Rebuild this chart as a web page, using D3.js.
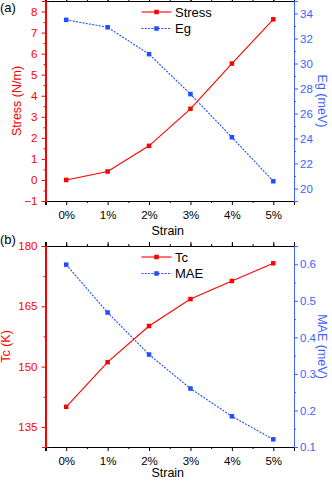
<!DOCTYPE html>
<html>
<head>
<meta charset="utf-8">
<script src="https://cdn.jsdelivr.net/npm/d3@7"></script>
<style>
  body { margin: 0; background: #fff; }
  svg { display: block; font-family: "Liberation Sans", Arial, sans-serif; }
  .domain { shape-rendering: crispEdges; }
</style>
</head>
<body>
<div id="graph"></div>
<script>
var strain = [0, 1, 2, 3, 4, 5]
var strainLabels = ['0%', '1%', '2%', '3%', '4%', '5%']

var stress = [0, 0.4, 1.62, 3.38, 5.53, 7.63]
var eg = [33.49, 32.9, 30.75, 27.55, 24.1, 20.58]
var tc = [140, 151.1, 160.1, 166.8, 171.3, 175.7]
var mae = [0.599, 0.468, 0.353, 0.26, 0.184, 0.121]

var stressTicks = [-1, 0, 1, 2, 3, 4, 5, 6, 7, 8]
var egTicks = [20, 22, 24, 26, 28, 30, 32, 34]
var tcTicks = [135, 150, 165, 180]
var maeTicks = [0.1, 0.2, 0.3, 0.4, 0.5, 0.6]

var red = '#ff0000', blue = '#1f4dff', blueAxis = '#3f5fff'

var W = 332, H = 481
var left = 45.5, right = 294

var svg = d3.select('#graph').append('svg').attr('width', W).attr('height', H)

var x = d3.scaleLinear().domain([-0.5, 5.5]).range([left, right])

function range(a, b, s) {
  var out = []
  for (var v = a; v <= b + 1e-9; v += s) out.push(+v.toFixed(4))
  return out
}

function panel(o) {
  var g = svg.append('g')
  var yl = d3.scaleLinear().domain(o.ldom).range([o.bottom, o.top])
  var yr = d3.scaleLinear().domain(o.rdom).range([o.bottom, o.top])

  // minor ticks first
  g.append('g').attr('transform', 'translate(0,' + o.bottom + ')')
    .call(d3.axisBottom(x).tickValues(range(0.5, 4.5, 1)).tickSize(2).tickFormat(''))
  g.append('g').attr('transform', 'translate(0,' + o.top + ')')
    .call(d3.axisTop(x).tickValues(range(-0.5, 5.5, 0.5)).tickSize(2).tickFormat(''))
  g.append('g').attr('transform', 'translate(' + left + ',0)').attr('class', 'la')
    .call(d3.axisLeft(yl).tickValues(o.lminor).tickSize(2).tickFormat(''))
  g.append('g').attr('transform', 'translate(' + right + ',0)').attr('class', 'ra')
    .call(d3.axisRight(yr).tickValues(o.rminor).tickSize(2).tickFormat(''))

  // major
  g.append('g').attr('transform', 'translate(0,' + o.bottom + ')')
    .call(d3.axisBottom(x).tickValues(strain).tickSize(4).tickPadding(6)
      .tickFormat(function(d, i){ return strainLabels[i] }))
  g.append('g').attr('transform', 'translate(0,' + o.top + ')')
    .call(d3.axisTop(x).tickValues(strain).tickSize(4).tickFormat(''))
  g.append('g').attr('transform', 'translate(' + left + ',0)').attr('class', 'la')
    .call(d3.axisLeft(yl).tickValues(o.lticks).tickSize(4).tickPadding(4).tickFormat(o.lfmt))
  g.append('g').attr('transform', 'translate(' + right + ',0)').attr('class', 'ra')
    .call(d3.axisRight(yr).tickValues(o.rticks).tickSize(4).tickPadding(2).tickFormat(o.rfmt))

  g.selectAll('.tick text').attr('font-size', 11.5).attr('font-family', null)
  g.selectAll('.domain').attr('stroke-width', 1.2)
  g.selectAll('.la path, .la line').attr('stroke', red)
  g.selectAll('.la text').attr('fill', red)
  g.selectAll('.ra path, .ra line').attr('stroke', blueAxis)
  g.selectAll('.ra text').attr('fill', blueAxis)

  // series
  var lineL = d3.line().x(function(d, i){ return x(strain[i]) }).y(function(d){ return yl(d) })
  var lineR = d3.line().x(function(d, i){ return x(strain[i]) }).y(function(d){ return yr(d) })

  g.append('path').attr('d', lineR(o.rdata)).attr('fill', 'none')
    .attr('stroke', blue).attr('stroke-width', 1.1).attr('stroke-dasharray', '2,1.3')
  g.append('path').attr('d', lineL(o.ldata)).attr('fill', 'none')
    .attr('stroke', red).attr('stroke-width', 1.1)

  var s = 4.5
  g.selectAll('rect.r').data(o.rdata).enter().append('rect')
    .attr('x', function(d, i){ return x(strain[i]) - s / 2 })
    .attr('y', function(d){ return yr(d) - s / 2 })
    .attr('width', s).attr('height', s).attr('fill', blue)
  g.selectAll('rect.l').data(o.ldata).enter().append('rect')
    .attr('x', function(d, i){ return x(strain[i]) - s / 2 })
    .attr('y', function(d){ return yl(d) - s / 2 })
    .attr('width', s).attr('height', s).attr('fill', red)

  // axis titles
  g.append('text').text('Strain').attr('x', (left + right) / 2 - 2).attr('y', o.bottom + o.sdy)
    .attr('text-anchor', 'middle').attr('font-size', 12.5)
  g.append('text').text(o.ltitle)
    .attr('transform', 'translate(' + o.ltx + ',' + ((o.top + o.bottom) / 2) + ') rotate(-90)')
    .attr('dy', '0.35em').attr('text-anchor', 'middle').attr('font-size', 12.5).attr('fill', red)
  g.append('text').text(o.rtitle)
    .attr('transform', 'translate(322,' + ((o.top + o.bottom) / 2) + ') rotate(90)')
    .attr('dy', '0.35em').attr('text-anchor', 'middle').attr('font-size', 12.5).attr('fill', blueAxis)

  g.append('text').text(o.tag).attr('x', 0).attr('y', o.top + o.tagdy).attr('font-size', 13)

  // legend
  var lx0 = 141.5, lx1 = 171.5
  var ly = [o.top + 11, o.top + 27.5]
  g.append('line').attr('x1', lx0).attr('x2', lx1).attr('y1', ly[0]).attr('y2', ly[0])
    .attr('stroke', red).attr('stroke-width', 1.1)
  g.append('rect').attr('x', (lx0 + lx1) / 2 - s / 2).attr('y', ly[0] - s / 2)
    .attr('width', s).attr('height', s).attr('fill', red)
  g.append('line').attr('x1', lx0).attr('x2', lx1).attr('y1', ly[1]).attr('y2', ly[1])
    .attr('stroke', blue).attr('stroke-width', 1.1).attr('stroke-dasharray', '2,1.3')
  g.append('rect').attr('x', (lx0 + lx1) / 2 - s / 2).attr('y', ly[1] - s / 2)
    .attr('width', s).attr('height', s).attr('fill', blue)
  g.append('text').text(o.lname).attr('x', 175).attr('y', ly[0]).attr('dy', '0.35em').attr('font-size', 13)
  g.append('text').text(o.rname).attr('x', 175).attr('y', ly[1]).attr('dy', '0.35em').attr('font-size', 13)
}

panel({
  top: 1, bottom: 201, tag: '(a)', tagdy: 11, sdy: 34,
  ldom: [-1, 8.5], rdom: [19, 35],
  lticks: stressTicks, rticks: egTicks,
  lminor: range(-0.5, 8.5, 1), rminor: range(19, 35, 2),
  lfmt: d3.format('d'), rfmt: d3.format('d'),
  ldata: stress, rdata: eg,
  ltitle: 'Stress (N/m)', rtitle: 'Eg (meV)', ltx: 17,
  lname: 'Stress', rname: 'Eg'
})

panel({
  top: 246, bottom: 447, tag: '(b)', tagdy: -2, sdy: 30,
  ldom: [130, 180], rdom: [0.1, 0.65],
  lticks: tcTicks, rticks: maeTicks,
  lminor: range(142.5, 172.5, 15), rminor: range(0.15, 0.65, 0.1),
  lfmt: d3.format('d'), rfmt: d3.format('.1f'),
  ldata: tc, rdata: mae,
  ltitle: 'Tc (K)', rtitle: 'MAE (meV)', ltx: 6,
  lname: 'Tc', rname: 'MAE'
})
</script>
</body>
</html>
